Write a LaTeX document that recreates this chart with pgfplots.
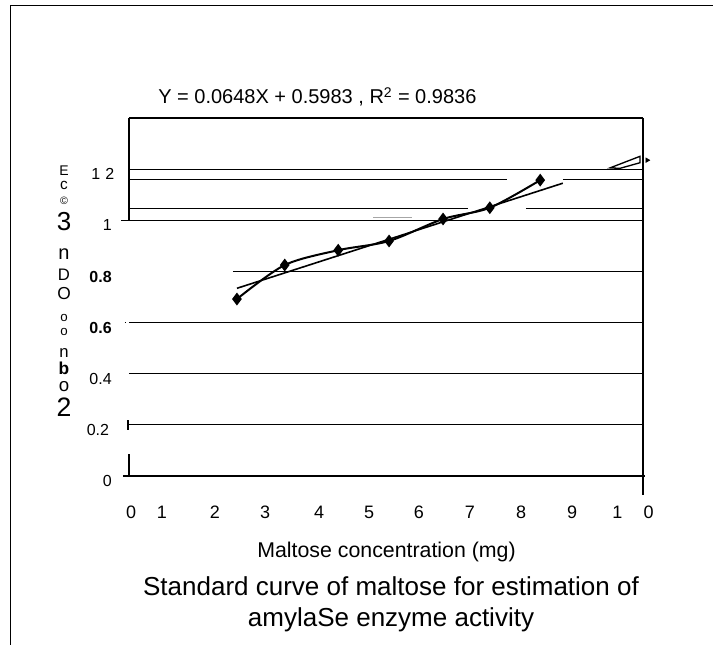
\documentclass[border=0pt]{standalone}
\usepackage{fontspec}
\setmainfont{Liberation Sans}
\usepackage{pgfplots}
\pgfplotsset{compat=1.18}
\begin{document}
\begin{tikzpicture}[x=0.75pt,y=0.75pt]
\useasboundingbox (-129,-169) rectangle (584,476);
\draw[line width=1pt] (-118.5,-169) -- (-118.5,470.7) -- (584,470.7);
\begin{axis}[at={(0,0)}, anchor=south west, scale only axis,
  width=385.5pt, height=268.5pt,
  xmin=0, xmax=10, ymin=0, ymax=1.4, clip=false,
  axis line style={draw=none}, major tick length=0pt,
  xtick={0.04,0.64,1.67,2.65,3.70,4.67,5.64,6.63,7.63,8.62,9.805},
  xticklabels={0,1,2,3,4,5,6,7,8,9,1\kern16pt0},
  ytick={0,0.2,0.4,0.6,0.8,1,1.2},
  yticklabels={0,0.2\kern2pt,0.4,\textbf{0.6},\textbf{0.8},1,1\kern4pt2\kern-2pt},
  xticklabel style={font=\fontsize{13.5}{14}\selectfont, anchor=base, inner sep=0pt, yshift=-31.5pt},
  yticklabel style={font=\fontsize{12}{13}\selectfont, anchor=base east, inner sep=0pt, xshift=-12.75pt, yshift=-8pt},
  /pgf/number format/assume math mode=true,
]
% frame of the plot area
\addplot[black, line width=0.9pt] coordinates {(0,1.4)(10,1.4)};
\addplot[black, line width=0.9pt] coordinates {(10,1.4)(10,-0.074)};
\addplot[black, line width=0.9pt] coordinates {(-0.12,0)(10.04,0)};
\addplot[black, line width=0.9pt] coordinates {(0,1.4)(0,1.0)};
\addplot[black, line width=1.3pt] coordinates {(0,0)(0,0.086)};
\addplot[black, line width=0.9pt] coordinates {(-0.02,0.18)(-0.02,0.22)};
\addplot[black, line width=0.9pt] coordinates {(-0.15,1.0)(0,1.0)};
\addplot[black, line width=0.9pt] coordinates {(-0.08,0.6)(-0.05,0.6)};
% gridlines
\addplot[black, line width=0.8pt] coordinates {(0,0.2)(10,0.2)};
\addplot[black, line width=0.8pt] coordinates {(0,0.4)(10,0.4)};
\addplot[black, line width=0.8pt] coordinates {(0,0.6)(10,0.6)};
\addplot[black, line width=0.8pt] coordinates {(2.02,0.8)(10,0.8)};
\addplot[black, line width=0.8pt] coordinates {(0,1.0)(10,1.0)};
\addplot[black, line width=0.8pt] coordinates {(0,1.045)(6.60,1.045)};
\addplot[black, line width=0.8pt] coordinates {(7.72,1.045)(10,1.045)};
\addplot[black, line width=0.8pt] coordinates {(0,1.16)(7.35,1.16)};
\addplot[black, line width=0.8pt] coordinates {(8.44,1.16)(10,1.16)};
\addplot[black, line width=0.8pt] coordinates {(0,1.2)(10,1.2)};
\addplot[gray!70, line width=1pt] coordinates {(4.75,1.01)(5.5,1.01)};
% data (smoothed line with markers)
\addplot[black, line width=1.5pt, smooth, mark=diamond*, mark size=3.6pt, mark options={solid}]
  coordinates {(2.10,0.692)(3.03,0.825)(4.07,0.883)(5.06,0.919)(6.11,1.005)(7.02,1.049)(8.00,1.157)};
% linear trend line
\addplot[black, line width=1.2pt] coordinates {(2.1,0.734)(8.44,1.145)};
% artefacts at top right
\addplot[black, line width=1pt] coordinates {(9.36,1.205)(9.94,1.25)(9.94,1.225)(9.55,1.203)} -- cycle;
\addplot[only marks, mark=triangle*, mark size=2pt, mark options={rotate=-90}] coordinates {(10.08,1.235)};
\end{axis}
% equation
\node[anchor=base west, font=\fontsize{15}{18}\selectfont, inner sep=0pt] at (29,372) {Y = 0.0648X + 0.5983 , R\textsuperscript{2} = 0.9836};
% garbled y-axis label
\node[font=\fontsize{10.5}{10}\selectfont, inner sep=0pt] at (-65,305) {E};
\node[font=\fontsize{11.5}{11}\selectfont, inner sep=0pt] at (-65,291) {c};
\node[font=\fontsize{8}{8}\selectfont, inner sep=0pt] at (-65,275) {©};
\node[font=\fontsize{19.5}{19}\selectfont, inner sep=0pt] at (-65,254) {3};
\node[font=\fontsize{15}{15}\selectfont, inner sep=0pt] at (-65,222) {n};
\node[font=\fontsize{12.5}{12}\selectfont, inner sep=0pt] at (-65,201) {D};
\node[font=\fontsize{13}{12.5}\selectfont, inner sep=0pt] at (-65,182) {O};
\node[font=\fontsize{10}{9.5}\selectfont, inner sep=0pt] at (-65,158) {o};
\node[font=\fontsize{10}{9.5}\selectfont, inner sep=0pt] at (-65,144) {o};
\node[font=\fontsize{12.5}{12}\selectfont, inner sep=0pt] at (-65,123) {n};
\node[font=\bfseries\fontsize{13}{13}\selectfont, inner sep=0pt] at (-65,108) {b};
\node[font=\fontsize{14}{14}\selectfont, inner sep=0pt] at (-65,89) {o};
\node[font=\fontsize{20}{20}\selectfont, inner sep=0pt] at (-65,69) {2};
% x label and caption
\node[anchor=base, font=\fontsize{16}{19}\selectfont, inner sep=0pt] at (257.5,-82) {Maltose concentration (mg)};
\node[anchor=base, font=\fontsize{19.5}{23}\selectfont, inner sep=0pt] at (262,-119) {Standard curve of maltose for estimation of};
\node[anchor=base, font=\fontsize{19.5}{23}\selectfont, inner sep=0pt] at (262,-151) {amylaSe enzyme activity};
\end{tikzpicture}
\end{document}
